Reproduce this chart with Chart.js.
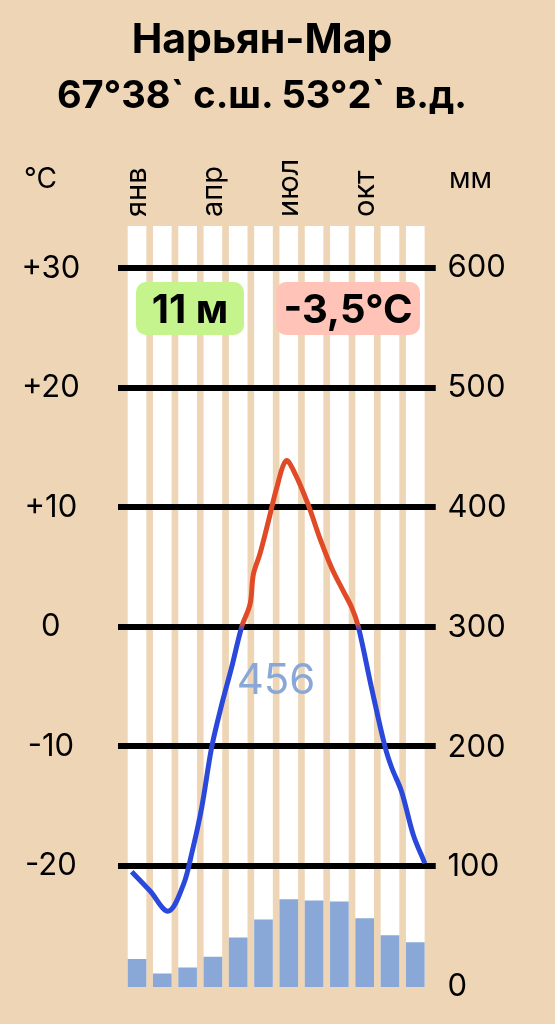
<!DOCTYPE html>
<html lang="ru">
<head>
<meta charset="utf-8">
<title>Нарьян-Мар</title>
<script src="https://cdn.jsdelivr.net/npm/chart.js@4.4.1/dist/chart.umd.min.js"></script>
<style>
  html, body { margin: 0; padding: 0; background: #edd5b5; }
  #wrap { position: relative; width: 555px; height: 1024px; font-family: Inter, sans-serif; color: #000; }
  #chart { position: absolute; left: 0; top: 0; }
  .abs { position: absolute; white-space: nowrap; }
  .title { left: 0; width: 524px; text-align: center; font-weight: 700; line-height: 50px; }
  .unit { font-size: 28px; line-height: 30px; }
  .badge { display: flex; align-items: center; justify-content: center; border-radius: 10px; font-weight: 700; font-size: 40px; height: 53px; top: 282px; }
  #total { left: 216px; top: 654px; width: 120px; text-align: center; font-size: 42px; line-height: 50px; color: #8aa8d7; }
</style>
</head>
<body>
<div id="wrap">
  <canvas id="chart" width="555" height="1024"></canvas>
  <div class="abs title" style="top:13px; font-size:41px;">Нарьян-Мар</div>
  <div class="abs title" style="top:69px; font-size:38px;">67°38` с.ш. 53°2` в.д.</div>
  <div class="abs unit" style="left:24px; top:163px;">°C</div>
  <div class="abs unit" style="left:449px; top:163px;">мм</div>
  <div class="abs badge" style="left:136px; width:108px; background:#c4f48b;">11 м</div>
  <div class="abs badge" style="left:276px; width:144px; background:#ffc4b7;">-3,5°C</div>
  <div id="total" class="abs">456</div>
</div>
<script>
// months and labels shown on the top axis
const months = ["янв", "фев", "мар", "апр", "май", "июн", "июл", "авг", "сен", "окт", "ноя", "дек"];
const monthTicks = [1, 4, 7, 10];

// monthly precipitation, mm
const precip = [23, 11, 16, 25, 41, 56, 73, 72, 71, 57, 43, 37];

// temperature curve as drawn: position in months, degrees C
const tempX = [0.79, 1.51, 2.24, 2.83, 3.16, 3.56, 3.95, 4.35, 4.74, 5.14, 5.47, 5.6, 5.86, 6.19, 6.52, 6.89,
               7.25, 7.77, 8.23, 8.7, 9.15, 9.49, 9.75, 10.27, 10.8, 11.07, 11.46, 11.92, 12.38];
const tempY = [-20.5, -22.1, -23.8, -21.6, -19.0, -15.1, -10.1, -6.5, -3.4, 0, 1.9, 4.4, 6.1, 8.8, 11.6, 13.9,
               12.8, 10.2, 7.4, 4.9, 3.0, 1.6, 0, -5.1, -10.0, -11.8, -13.8, -17.4, -19.8];

// axis ticks
const tempTicks = [-20, -10, 0, 10, 20, 30];
const mmTicks = [0, 100, 200, 300, 400, 500, 600];

const T_MIN = -30.15, T_MAX = 33.54;
const MM_MIN = 0, MM_MAX = 635;

const RED = "#e14a26";
const BLUE = "#2a48da";
const FONT = { family: "Inter", size: 31 };

// white month stripes go behind the grid, so redraw the grid right after them
const gridOverStripes = {
    id: "gridOverStripes",
    afterDatasetDraw(chart, args) {
        if (chart.data.datasets[args.index].label === "stripes") {
            chart.scales.yT.drawGrid(chart.chartArea);
        }
    },
};

// keep tick labels from pushing the plot area in
const noLabelPadding = (s) => {
    s.paddingTop = 0;
    s.paddingBottom = 0;
    s.paddingLeft = 0;
    s.paddingRight = 0;
};

const lineColor = (ctx) => {
    const { chart } = ctx;
    const area = chart.chartArea;
    if (!area) return BLUE;
    const y0 = chart.scales.yT.getPixelForValue(0);
    const s = (y0 - area.top) / (area.bottom - area.top);
    const g = chart.ctx.createLinearGradient(0, area.top, 0, area.bottom);
    g.addColorStop(0, RED);
    g.addColorStop(s - 0.004, RED);
    g.addColorStop(s + 0.004, BLUE);
    g.addColorStop(1, BLUE);
    return g;
};

new Chart(document.getElementById("chart"), {
    type: "bar",
    plugins: [gridOverStripes],
    data: {
        datasets: [
            {
                label: "stripes",
                data: months.map((m, i) => ({ x: i + 1, y: [T_MIN, T_MAX] })),
                backgroundColor: "#ffffff",
                barThickness: 18,
                grouped: false,
                yAxisID: "yT",
                order: 3,
            },
            {
                label: "осадки",
                data: precip.map((v, i) => ({ x: i + 1, y: v })),
                backgroundColor: "#8aa8d7",
                barThickness: 18,
                grouped: false,
                yAxisID: "yP",
                order: 2,
            },
            {
                type: "line",
                label: "температура",
                data: tempX.map((x, i) => ({ x, y: tempY[i] })),
                borderColor: lineColor,
                borderWidth: 5,
                pointRadius: 0,
                tension: 0.35,
                fill: false,
                yAxisID: "yT",
                order: 1,
            },
        ],
    },
    options: {
        responsive: false,
        animation: false,
        events: [],
        layout: { padding: { top: 150, bottom: 37, left: 0, right: 0 } },
        plugins: { legend: { display: false }, tooltip: { enabled: false } },
        scales: {
            x: {
                type: "linear",
                position: "top",
                offset: false,
                min: 0.26,
                max: 12.8,
                grid: { display: false, drawTicks: false },
                border: { display: false },
                afterFit: (s) => { s.height = 76; noLabelPadding(s); },
                afterBuildTicks: (s) => { s.ticks = monthTicks.map((v) => ({ value: v })); },
                ticks: {
                    autoSkip: false,
                    minRotation: 90,
                    maxRotation: 90,
                    padding: 9,
                    labelOffset: 35,
                    color: "#000",
                    font: { family: "Inter", size: 29 },
                    callback: (v) => months[v - 1],
                },
            },
            yT: {
                type: "linear",
                position: "left",
                min: T_MIN,
                max: T_MAX,
                afterFit: (s) => { s.width = 118.3; noLabelPadding(s); },
                afterBuildTicks: (s) => { s.ticks = tempTicks.map((v) => ({ value: v })); },
                grid: { color: "#000", lineWidth: 6, drawTicks: false },
                border: { display: false },
                ticks: {
                    crossAlign: "center",
                    padding: 38,
                    color: "#000",
                    font: FONT,
                    callback: (v) => (v > 0 ? "+" + v : String(v)),
                },
            },
            yP: {
                type: "linear",
                position: "right",
                min: MM_MIN,
                max: MM_MAX,
                afterFit: (s) => { s.width = 119.5; noLabelPadding(s); },
                afterBuildTicks: (s) => { s.ticks = mmTicks.map((v) => ({ value: v })); },
                grid: { display: false, drawTicks: false },
                border: { display: false },
                ticks: {
                    crossAlign: "near",
                    padding: 12,
                    color: "#000",
                    font: FONT,
                },
            },
        },
    },
});
</script>
</body>
</html>
